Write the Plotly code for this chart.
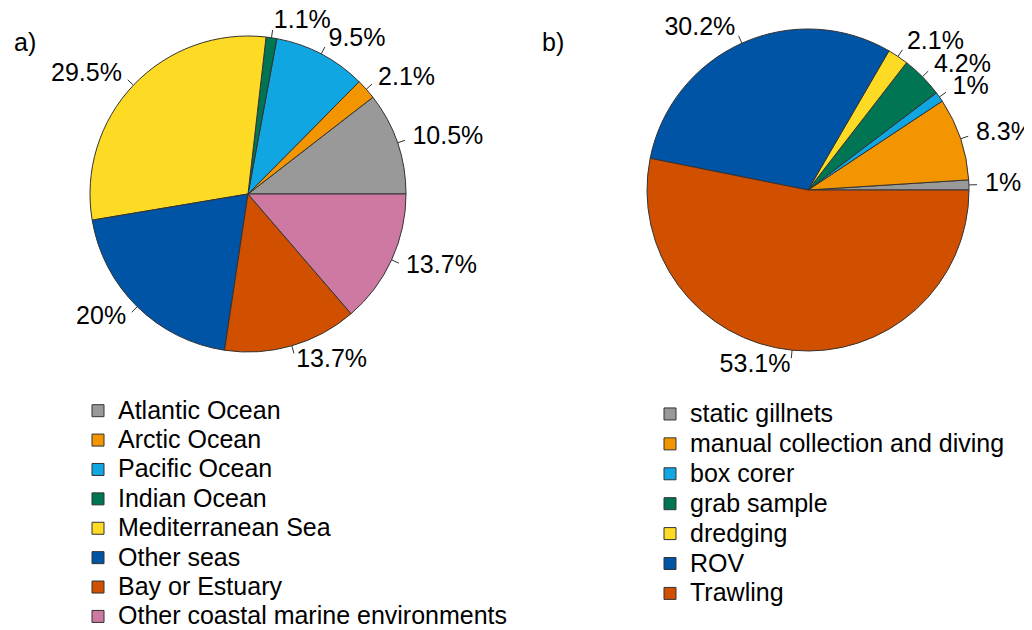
import numpy as np
import plotly.graph_objects as go

# ---- data ----
regions = ["Atlantic Ocean", "Arctic Ocean", "Pacific Ocean", "Indian Ocean",
           "Mediterranean Sea", "Other seas", "Bay or Estuary",
           "Other coastal marine environments"]
region_pct = [10.5, 2.1, 9.5, 1.1, 29.5, 20, 13.7, 13.7]

methods = ["static gillnets", "manual collection and diving", "box corer",
           "grab sample", "dredging", "ROV", "Trawling"]
method_pct = [1, 8.3, 1, 4.2, 2.1, 30.2, 53.1]

colors_a = ["#999999", "#F29500", "#0FA6E2", "#007554", "#FDDA24",
            "#0054A6", "#D05000", "#CE79A2"]
colors_b = ["#999999", "#F29500", "#0FA6E2", "#007554", "#FDDA24",
            "#0054A6", "#D05000"]

FONT = "Liberation Sans, Arial, sans-serif"

# ---- layout geometry (figure pixels; page body adds an 8px offset) ----
# figure is made taller than the window so the legends never push margins
W, H, OFF = 1032, 660, 8
A_CX, A_CY, A_R = 248 - OFF, 194 - OFF, 158
B_CX, B_CY, B_R = 808 - OFF, 190 - OFF, 161


def pct_text(v):
    return f"{v:g}%"


def leg_label(s):
    return f"<span style='font-size:25px'>{s}</span>"


def domain(cx, cy, r):
    return dict(x=[(cx - r) / W, (cx + r) / W],
                y=[1 - (cy + r) / H, 1 - (cy - r) / H])


def start_rotation(values):
    # plotly's counterclockwise pies place the first slice clockwise of
    # `rotation`; shift so the first slice starts at 3 o'clock going ccw
    v = np.asarray(values, float)
    return 90 - v[0] / v.sum() * 360


def label_geom(values, cx, cy, r):
    v = np.asarray(values, float)
    cum = np.concatenate([[0], np.cumsum(v / v.sum())])
    ang = (cum[:-1] + cum[1:]) / 2 * 2 * np.pi
    c, s = np.cos(ang), np.sin(ang)
    tx, ty = [], []
    for ci, si in zip(c, s):
        tx += [cx + r * ci, cx + 1.05 * r * ci, None]
        ty += [cy - r * si, cy - 1.05 * r * si, None]
    lx = cx + 1.1 * r * c
    ly = cy - 1.1 * r * s
    pos = ["middle right" if ci >= 0 else "middle left" for ci in c]
    return tx, ty, lx, ly, pos


fig = go.Figure()

fig.add_trace(go.Pie(
    labels=[leg_label(s) for s in regions],
    values=region_pct,
    textinfo="none",
    marker=dict(colors=colors_a, line=dict(color="#333333", width=1)),
    sort=False,
    direction="counterclockwise",
    rotation=start_rotation(region_pct),
    domain=domain(A_CX, A_CY, A_R),
    legend="legend",
    hoverinfo="label+percent",
))

fig.add_trace(go.Pie(
    labels=[leg_label(s) for s in methods],
    values=method_pct,
    textinfo="none",
    marker=dict(colors=colors_b, line=dict(color="#333333", width=1)),
    sort=False,
    direction="counterclockwise",
    rotation=start_rotation(method_pct),
    domain=domain(B_CX, B_CY, B_R),
    legend="legend2",
    hoverinfo="label+percent",
))

for vals, cx, cy, r in [(region_pct, A_CX, A_CY, A_R),
                        (method_pct, B_CX, B_CY, B_R)]:
    tx, ty, lx, ly, pos = label_geom(vals, cx, cy, r)
    fig.add_trace(go.Scatter(x=tx, y=ty, mode="lines",
                             line=dict(color="#333333", width=1),
                             showlegend=False, hoverinfo="skip"))
    fig.add_trace(go.Scatter(x=lx, y=ly, mode="text",
                             text=[pct_text(v) for v in vals],
                             textposition=pos,
                             textfont=dict(size=25, color="black", family=FONT),
                             showlegend=False, hoverinfo="skip"))

fig.update_layout(
    width=W, height=H,
    margin=dict(l=0, r=0, t=0, b=0),
    paper_bgcolor="white",
    plot_bgcolor="rgba(0,0,0,0)",
    font=dict(family=FONT, color="black"),
    showlegend=True,
    xaxis=dict(range=[0, W], visible=False, fixedrange=True),
    yaxis=dict(range=[H, 0], visible=False, fixedrange=True),
    legend=dict(x=(78 - OFF) / W, y=1 - (391 - OFF) / H,
                xanchor="left", yanchor="top",
                font=dict(size=20.3, family=FONT, color="black"),
                bgcolor="rgba(0,0,0,0)"),
    legend2=dict(x=(650 - OFF) / W, y=1 - (394 - OFF) / H,
                 xanchor="left", yanchor="top",
                 font=dict(size=20.7, family=FONT, color="black"),
                 bgcolor="rgba(0,0,0,0)"),
    annotations=[
        dict(text="a)", x=(12 - OFF) / W, y=1 - (42 - OFF) / H,
             xref="paper", yref="paper", xanchor="left", yanchor="middle",
             showarrow=False, font=dict(size=25, family=FONT, color="black")),
        dict(text="b)", x=(540 - OFF) / W, y=1 - (42 - OFF) / H,
             xref="paper", yref="paper", xanchor="left", yanchor="middle",
             showarrow=False, font=dict(size=25, family=FONT, color="black")),
    ],
)

fig.write_html("out.html")
